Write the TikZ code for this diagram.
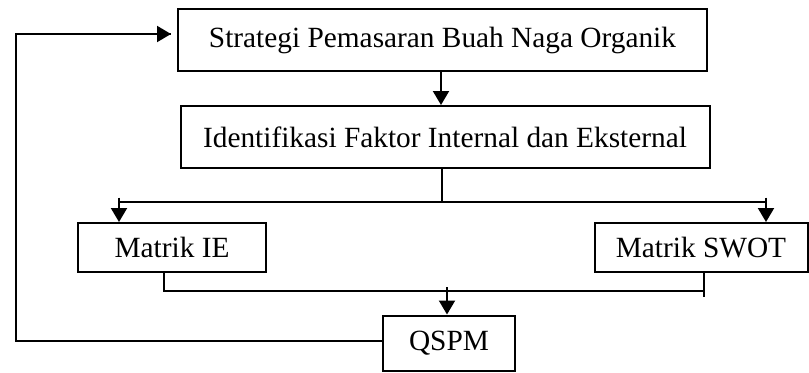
\documentclass[tikz,border=0pt]{standalone}
\usepackage{fontspec}
\setmainfont{Liberation Serif}
\usetikzlibrary{arrows.meta}
\begin{document}
\begin{tikzpicture}[x=0.75pt,y=-0.75pt,
  box/.style={draw,line width=1.5pt,inner sep=0pt,font=\fontsize{22}{26}\selectfont},
  ln/.style={line width=1.5pt},
  arr/.style={line width=1.5pt,-{Triangle[length=10.5pt,width=12pt]}}]
\useasboundingbox (0,0) rectangle (809,372);
\node[box,minimum width=529*0.75pt,minimum height=62*0.75pt] (s1) at (442.5,40) {Strategi Pemasaran Buah Naga Organik};
\node[box,minimum width=529*0.75pt,minimum height=62*0.75pt] (s2) at (445,137) {Identifikasi Faktor Internal dan Eksternal};
\node[box,minimum width=188*0.75pt,minimum height=49*0.75pt] (ie) at (172,247.5) {Matrik IE};
\node[box,minimum width=213*0.75pt,minimum height=49*0.75pt] (swot) at (701,247.5) {Matrik SWOT};
\node[box,minimum width=132*0.75pt,minimum height=55*0.75pt] (q) at (449,343) {QSPM};
% top arrow
\draw[arr] (s1.south -| 441,0) -- (s2.north -| 441,0);
% split
\coordinate (j1) at (442,201.5);
\coordinate (jl) at (119,201.5);
\coordinate (jr) at (766,201.5);
\draw[ln] (s2.south -| j1) -- (j1);
\draw[ln] (jl) -- (jr);
\draw[arr] (119,197.5) -- (ie.north -| jl);
\draw[arr] (766,197.5) -- (swot.north -| jr);
% merge
\coordinate (m1) at (164,291);
\coordinate (m2) at (704,291);
\draw[ln] (ie.south -| m1) -- (m1) -- (m2);
\draw[ln] (swot.south -| m2) -- (704,297);
\draw[arr] (447,287) -- (q.north -| 447,0);
% feedback
\coordinate (f1) at (16,341);
\coordinate (f2) at (16,34);
\coordinate (f3) at (171,34);
\draw[ln] (q.west |- f1) -- (f1) -- (f2) -- (f3);
\draw[arr] (f2) -- (f3);
\end{tikzpicture}
\end{document}
